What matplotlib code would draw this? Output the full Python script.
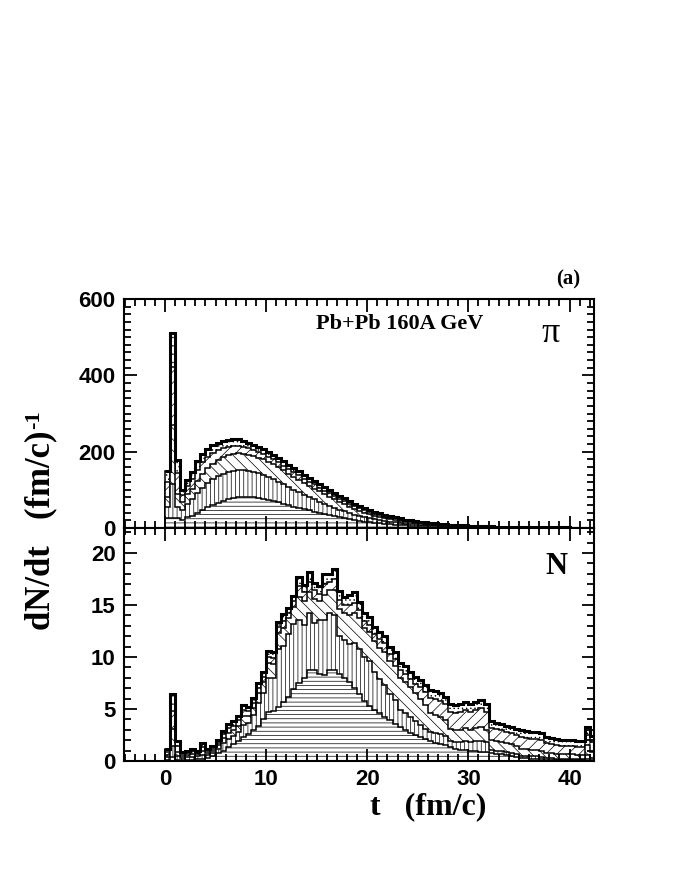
import matplotlib
matplotlib.use('Agg')
import matplotlib.pyplot as plt
import numpy as np
from matplotlib.ticker import MultipleLocator

# time bins, 0.5 fm/c wide, left edges from 0 to 42
bin_w = 0.5
t_left = np.arange(0, 42.5, bin_w)
edges = np.append(t_left, t_left[-1] + bin_w)

# pions, five stacked contributions (bottom -> top)
pi_h = [25, 25, 25, 22, 28, 32, 40, 48, 55, 61, 66, 71, 75, 79, 81, 82, 82, 81, 79, 76,
        73, 70, 67, 63, 60, 56, 53, 49, 46, 43, 40, 37, 34, 31, 28, 26, 23, 21, 19, 17,
        15, 14, 12, 11, 10, 9, 8, 7, 6.5, 6, 5.5, 5, 4.5, 4, 3.7, 3.4, 3.1, 2.8, 2.5, 2.3,
        2.1, 1.9, 1.7, 1.6, 1.4, 1.3, 1.2, 1.1, 1.0, 0.9, 0.8, 0.8, 0.7, 0.6, 0.6, 0.5, 0.5, 0.4, 0.4, 0.4,
        0.3, 0.3, 0.3, 0.3, 0.2]
pi_v = [30, 90, 30, 25, 35, 43, 52, 58, 63, 67, 70, 71, 72, 71, 71, 70, 68, 66, 64, 63,
        61, 58, 54, 51, 47, 44, 41, 38, 35, 32, 29, 26, 24, 22, 20, 18, 16, 14, 13, 11,
        10, 9, 8, 7, 6, 6, 5, 4, 4, 3.5, 3, 2.7, 2.4, 2.2, 2, 1.8, 1.6, 1.5, 1.4, 1.2,
        1.1, 1.0, 0.9, 0.8, 0.8, 0.7, 0.6, 0.6, 0.5, 0.5, 0.5, 0.4, 0.4, 0.4, 0.3, 0.3, 0.3, 0.3, 0.3, 0.2,
        0.2, 0.2, 0.2, 0.2, 0.2]
pi_b = [25, 155, 35, 20, 25, 28, 32, 36, 38, 40, 42, 43, 43, 44, 44, 43, 42, 42, 41, 41,
        40, 39, 38, 37, 35, 34, 32, 31, 29, 28, 27, 25, 23, 22, 20, 19, 17, 15, 13, 12,
        11, 9, 9, 8, 7, 6, 6, 5, 4.5, 4, 3.5, 3.2, 2.9, 2.7, 2.5, 2.2, 2.0, 1.8, 1.7, 1.5,
        1.4, 1.2, 1.1, 1.0, 0.9, 0.8, 0.8, 0.7, 0.6, 0.6, 0.5, 0.5, 0.4, 0.4, 0.4, 0.4, 0.3, 0.3, 0.3, 0.3,
        0.3, 0.2, 0.2, 0.2, 0.2]
pi_s = [40, 152, 55, 20, 22, 25, 28, 30, 29, 28, 26, 24, 23, 22, 20, 18, 17, 15, 15, 14,
        13, 13, 13, 12, 12, 12, 12, 11, 11, 11, 10, 10, 10, 9, 9, 8, 8, 7, 7, 6,
        6, 5, 5, 4, 4, 4, 3, 3, 2.5, 2.3, 2, 1.8, 1.6, 1.6, 1.4, 1.3, 1.2, 1.1, 1.0, 0.9,
        0.8, 0.8, 0.7, 0.7, 0.6, 0.6, 0.5, 0.5, 0.5, 0.4, 0.4, 0.4, 0.4, 0.3, 0.3, 0.3, 0.3, 0.3, 0.2, 0.2,
        0.2, 0.2, 0.2, 0.2, 0.2]
pi_d = [30, 90, 33, 13, 15, 20, 23, 23, 23, 21, 20, 19, 18, 18, 17, 16, 15, 14, 13, 12,
        12, 12, 12, 12, 12, 11, 11, 11, 11, 10, 10, 10, 9, 8, 8, 7, 7, 7, 6, 6,
        5, 5, 4, 4, 4, 3, 3, 3, 2.5, 2.2, 2, 1.8, 1.6, 1.5, 1.4, 1.3, 1.1, 1.0, 0.9, 0.9,
        0.8, 0.7, 0.7, 0.6, 0.6, 0.5, 0.5, 0.4, 0.4, 0.4, 0.4, 0.3, 0.3, 0.3, 0.3, 0.2, 0.2, 0.2, 0.2, 0.2,
        0.2, 0.2, 0.1, 0.1, 0.1]

# nucleons
n_h = [0.1, 0.4, 0.1, 0.1, 0.1, 0.1, 0.2, 0.2, 0.3, 0.5, 0.8, 1.0, 1.3, 1.6, 1.9, 2.3, 2.6, 3.0, 3.4, 4.0,
       4.7, 4.8, 5.2, 5.7, 6.2, 6.9, 7.5, 8.0, 8.7, 8.7, 8.4, 8.3, 8.7, 8.7, 8.4, 8.0, 7.6, 7.0, 6.4, 5.8,
       5.3, 4.9, 4.6, 4.2, 3.9, 3.6, 3.3, 3.0, 2.7, 2.5, 2.3, 2.1, 1.9, 1.7, 1.6, 1.5, 1.3, 1.2, 1.1, 1.1,
       1.0, 1.0, 0.9, 0.9, 0.8, 0.7, 0.7, 0.6, 0.5, 0.4, 0.3, 0.3, 0.2, 0.2, 0.2, 0.1, 0.1, 0.1, 0.1, 0.1,
       0.1, 0.1, 0.1, 0.2, 0.1]
n_v = [0.3, 1.0, 0.4, 0.2, 0.3, 0.3, 0.3, 0.4, 0.3, 0.3, 0.4, 0.7, 0.8, 0.8, 0.9, 1.2, 1.1, 1.4, 2.2, 2.5,
       3.3, 3.2, 5.6, 5.4, 6.0, 6.3, 6.1, 5.1, 5.5, 4.6, 5.2, 5.3, 5.5, 5.3, 3.6, 3.6, 3.6, 4.3, 4.4, 4.2,
       4.3, 3.7, 3.3, 3.1, 2.5, 2.3, 1.6, 1.6, 1.5, 1.3, 1.2, 1.0, 0.9, 1.0, 1.0, 0.9, 0.6, 0.6, 0.7, 0.8,
       0.8, 0.9, 1.0, 0.9, 0.3, 0.3, 0.3, 0.3, 0.3, 0.3, 0.2, 0.2, 0.3, 0.3, 0.2, 0.2, 0.2, 0.1, 0.1, 0.1,
       0.1, 0.1, 0.1, 0.4, 0.2]
n_b = [0.2, 1.7, 0.4, 0.2, 0.2, 0.3, 0.2, 0.4, 0.2, 0.2, 0.3, 0.5, 0.6, 0.6, 0.6, 0.8, 0.6, 0.7, 0.9, 1.1,
       1.4, 1.3, 1.5, 1.7, 1.5, 1.6, 2.2, 2.3, 2.0, 2.3, 1.8, 2.4, 2.2, 2.4, 2.6, 2.6, 2.8, 2.9, 2.9, 2.8,
       2.8, 2.9, 3.0, 3.2, 3.2, 3.2, 3.1, 3.0, 2.9, 2.7, 2.5, 2.3, 1.8, 1.7, 1.6, 1.5, 1.2, 1.2, 1.2, 1.3,
       1.2, 1.3, 1.4, 1.2, 0.9, 0.9, 0.8, 0.8, 0.8, 0.7, 0.7, 0.7, 0.6, 0.6, 0.6, 0.5, 0.5, 0.5, 0.5, 0.5,
       0.5, 0.4, 0.4, 0.9, 0.6]
n_s = [0.3, 1.7, 0.5, 0.2, 0.2, 0.3, 0.1, 0.3, 0.2, 0.2, 0.2, 0.4, 0.5, 0.4, 0.5, 0.6, 0.5, 0.5, 0.5, 0.5,
       0.6, 0.6, 0.6, 0.7, 0.5, 0.6, 1.0, 0.8, 1.0, 0.8, 0.7, 1.0, 0.8, 1.1, 0.9, 0.8, 1.0, 1.0, 0.8, 0.7,
       0.7, 0.7, 0.8, 0.8, 0.7, 0.7, 0.7, 0.8, 0.8, 0.9, 1.1, 1.2, 1.5, 1.6, 1.6, 1.6, 1.6, 1.6, 1.7, 1.7,
       1.7, 1.7, 1.8, 1.7, 1.2, 1.2, 1.2, 1.1, 1.1, 1.1, 1.1, 1.0, 1.0, 1.0, 1.0, 0.9, 0.8, 0.8, 0.7, 0.7,
       0.7, 0.7, 0.7, 1.0, 0.9]
n_d = [0.3, 1.6, 0.5, 0.2, 0.2, 0.2, 0.2, 0.4, 0.2, 0.2, 0.3, 0.3, 0.4, 0.4, 0.4, 0.5, 0.4, 0.5, 0.5, 0.5,
       0.6, 0.6, 0.5, 0.6, 0.5, 0.5, 0.9, 0.7, 1.0, 0.7, 0.7, 1.0, 0.8, 1.0, 0.8, 0.8, 1.0, 1.0, 0.8, 0.7,
       0.7, 0.7, 0.7, 0.7, 0.7, 0.7, 0.7, 0.7, 0.7, 0.7, 0.7, 0.7, 0.7, 0.7, 0.7, 0.7, 0.8, 0.8, 0.8, 0.8,
       0.8, 0.8, 0.8, 0.8, 0.6, 0.6, 0.6, 0.6, 0.6, 0.6, 0.7, 0.7, 0.7, 0.7, 0.7, 0.6, 0.6, 0.6, 0.6, 0.6,
       0.6, 0.6, 0.6, 0.8, 0.6]

hatches = ['----', '||||', '\\\\\\', '///', '....']

plt.rcParams['hatch.linewidth'] = 0.5
plt.rcParams['font.family'] = 'Liberation Sans'

def draw_stack(ax, layers):
    cum = np.cumsum(np.array(layers, dtype=float), axis=0)
    # draw from the top contribution down so lower ones sit on top
    for k in range(len(layers) - 1, -1, -1):
        ax.stairs(cum[k], edges, baseline=0, fill=True, facecolor='white',
                  edgecolor='black', hatch=hatches[k], linewidth=1.1)
    ax.stairs(cum[-1], edges, baseline=None, color='black', linewidth=2.2)

def style_axis(ax):
    ax.set_xlim(-4.05, 42.4)
    ax.xaxis.set_major_locator(MultipleLocator(10))
    ax.xaxis.set_minor_locator(MultipleLocator(1))
    ax.tick_params(which='both', direction='in', top=True, right=True, width=1.3)
    ax.tick_params(which='major', length=9, labelsize=16, pad=6)
    ax.tick_params(which='minor', length=5)
    for sp in ax.spines.values():
        sp.set_linewidth(1.5)
        sp.set_zorder(5)

fig = plt.figure(figsize=(6.74, 8.72), dpi=100)
ax1 = fig.add_axes([0.184, 0.3945, 0.697, 0.2626])
ax2 = fig.add_axes([0.184, 0.1273, 0.697, 0.2672])

draw_stack(ax1, [pi_h, pi_v, pi_b, pi_s, pi_d])
ax1.set_ylim(0, 600)
ax1.yaxis.set_major_locator(MultipleLocator(200))
ax1.yaxis.set_minor_locator(MultipleLocator(20))
style_axis(ax1)
ax1.tick_params(labelbottom=False)

draw_stack(ax2, [n_h, n_v, n_b, n_s, n_d])
ax2.set_ylim(0, 22.4)
ax2.yaxis.set_major_locator(MultipleLocator(5))
ax2.yaxis.set_minor_locator(MultipleLocator(1))
style_axis(ax2)
ax2.set_xticks([0, 10, 20, 30, 40])

for ax in (ax1, ax2):
    for lab in ax.get_xticklabels() + ax.get_yticklabels():
        lab.set_fontweight('bold')

serif = 'Liberation Serif'
fig.text(0.843, 0.680, '(a)', family=serif, weight='bold', fontsize=15, ha='center', va='center')
fig.text(0.593, 0.628, 'Pb+Pb 160A GeV', family=serif, weight='bold', fontsize=16, ha='center', va='center')
fig.text(0.8175, 0.618, 'π', family=serif, fontsize=26, ha='center', va='center')
fig.text(0.825, 0.350, 'N', family=serif, weight='bold', fontsize=22, ha='center', va='center')
fig.text(0.06, 0.392, 'dN/dt   (fm/c)', family=serif, weight='bold', fontsize=25,
         rotation=90, ha='center', va='center')
fig.text(0.051, 0.519, '-1', family=serif, weight='bold', fontsize=16,
         rotation=90, ha='center', va='center')
fig.text(0.635, 0.075, 't   (fm/c)', family=serif, weight='bold', fontsize=23, ha='center', va='center')

fig.savefig('out.png', dpi=100)
